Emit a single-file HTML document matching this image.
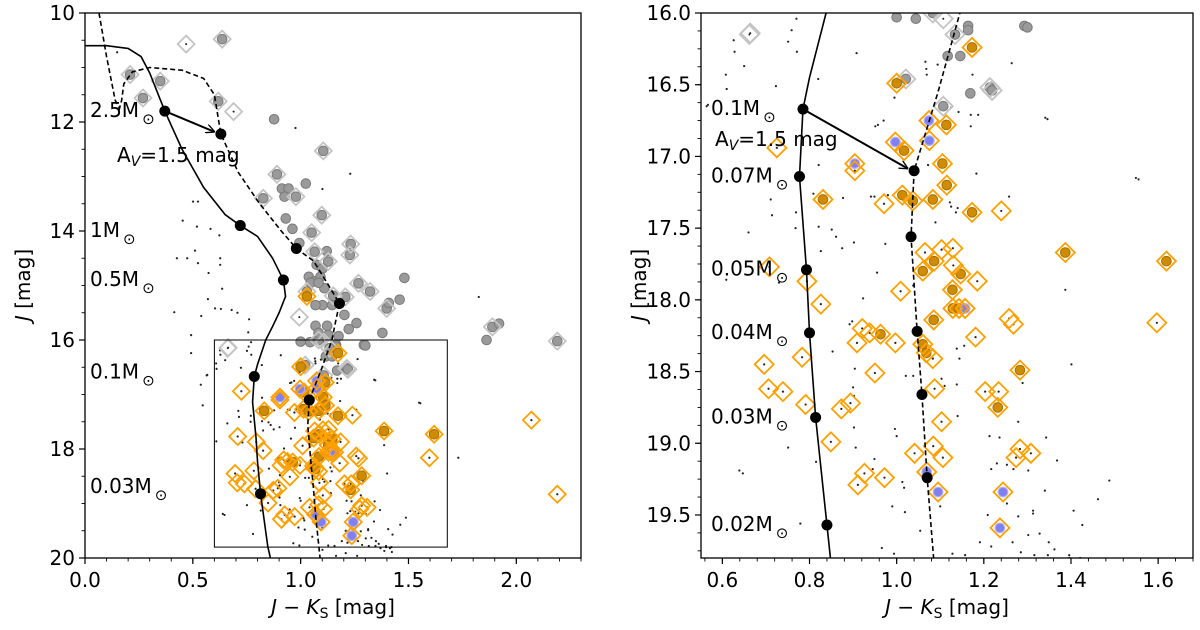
<!DOCTYPE html>
<html><head><meta charset="utf-8"><style>
html,body{margin:0;padding:0;background:#fff}
svg{display:block;font-family:"DejaVu Sans","Liberation Sans",sans-serif}
</style></head><body>
<svg id="chart" width="1200" height="630" viewBox="0 0 1200 630" xmlns="http://www.w3.org/2000/svg">
<defs>
<clipPath id="clipL"><rect x="85" y="13" width="496" height="545"/></clipPath>
<clipPath id="clipR"><rect x="701" y="13" width="492" height="545"/></clipPath>
<marker id="arrowHead" viewBox="0 0 10 10" refX="10" refY="5" markerWidth="9" markerHeight="9" orient="auto" markerUnits="userSpaceOnUse"><path d="M0,0 L10,5 L0,10" fill="none" stroke="#000" stroke-width="1.5"/></marker>
</defs>
<g id="layer"></g>
</svg>
<script>
// ---- data (color J-Ks, magnitude J) ----
const grayCircX=[0.636,0.209,0.349,0.269,0.618,1.105,0.89,0.827,0.978,1.098,1.051,1.232,1.228,1.128,1.065,1.029,1.151,1.207,1.268,1.322,1.399,1.889,2.19,1.214,1.083,0.877,1.024,0.913,0.944,0.925,0.931,0.962,0.994,1.074,1.101,1.038,1.065,1.092,1.047,1.110,1.083,1.101,1.069,1.146,1.203,1.259,1.481,1.409,1.459,1.379,1.223,1.123,1.069,1.128,1.083,1.176,1.044,1.293,1.164,1.862,1.92,1.121,1.0,1.164,1.30,1.134,1.117,1.146,1.021,1.169,1.219,1.107];
const grayCircJ=[10.48,11.13,11.25,11.56,11.62,12.53,12.96,13.40,13.37,13.71,14.03,14.24,14.44,14.56,14.38,15.11,15.19,15.21,14.96,15.11,15.42,15.76,16.02,16.52,16.0,11.95,13.13,13.22,13.22,13.37,13.77,13.96,14.22,14.62,14.69,14.84,14.92,14.84,14.95,15.05,14.95,15.36,15.36,15.36,15.54,15.69,14.86,15.32,15.26,15.87,15.80,15.74,15.74,15.91,15.87,15.93,16.04,16.09,16.09,16.0,15.70,14.37,16.03,16.12,16.10,16.15,16.30,16.30,16.46,16.56,16.54,16.65];
const grayDiaX=[0.636,0.209,0.349,0.269,0.618,1.105,0.89,0.827,0.978,1.098,1.051,1.232,1.228,1.128,1.065,1.029,1.151,1.207,1.268,1.322,1.399,1.889,2.19,1.214,1.083,0.469,0.689,0.994,0.662,0.664,1.107,1.134,1.021,1.219,1.107];
const grayDiaJ=[10.48,11.13,11.25,11.56,11.62,12.53,12.96,13.40,13.37,13.71,14.03,14.24,14.44,14.56,14.38,15.11,15.19,15.21,14.96,15.11,15.42,15.76,16.02,16.52,16.0,10.57,11.81,15.58,16.15,16.14,16.04,16.15,16.46,16.54,16.65];
const orangeCircX=[1.173,1.0,1.114,1.017,1.105,1.115,0.831,1.013,1.037,1.083,1.173,1.086,1.060,1.147,1.128,1.129,1.143,1.085,0.963,1.060,1.068,1.283,1.232,1.387,1.619,1.029];
const orangeCircJ=[16.24,16.49,16.78,16.96,17.05,17.20,17.30,17.27,17.31,17.30,17.39,17.73,17.80,17.82,17.93,18.06,18.06,18.14,18.24,18.31,18.37,18.49,18.75,17.67,17.73,15.20];
const blueCircX=[1.074,0.997,1.075,0.904,1.157,1.069,1.095,1.244,1.237];
const blueCircJ=[16.75,16.90,16.89,17.05,18.06,19.20,19.34,19.34,19.59];
const emptyDiaX=[0.725,0.904,0.971,1.240,1.065,1.103,1.129,1.130,0.708,0.794,1.185,0.826,1.009,1.258,1.268,1.597,0.921,0.938,0.909,0.997,1.181,0.783,0.696,0.950,1.083,0.706,0.739,1.087,1.203,1.234,0.791,0.873,0.894,1.103,0.849,1.041,1.084,1.106,1.283,1.274,1.308,0.926,0.972,0.911,2.07,2.19];
const emptyDiaJ=[16.94,17.10,17.33,17.38,17.67,17.65,17.64,17.76,17.77,17.87,17.87,18.03,17.94,18.13,18.17,18.16,18.20,18.23,18.30,18.30,18.26,18.40,18.45,18.51,18.41,18.62,18.64,18.62,18.64,18.64,18.73,18.76,18.72,18.85,18.99,19.07,19.02,19.10,19.04,19.10,19.07,19.21,19.24,19.29,17.47,18.83];
const dotX=[0.149,0.976,1.23,1.101,0.501,0.524,0.453,0.519,0.582,0.623,0.510,0.426,0.474,0.524,0.627,0.627,0.573,0.636,0.570,0.414,0.603,0.630,0.680,0.707,0.761,0.539,0.492,0.757,0.492,1.826,1.731,1.549,1.341,0.609,0.564,0.537,0.546,0.639,0.779,
0.770,0.759,0.626,0.751,0.628,0.771,0.908,0.650,0.820,0.723,0.608,0.610,0.567,0.970,0.957,0.995,1.066,1.068,1.069,1.094,1.264,1.174,1.125,1.142,1.170,1.187,1.346,1.170,0.951,1.072,1.183,1.555,0.821,0.711,0.809,0.769,0.714,0.660,0.768,0.821,0.851,0.861,0.902,0.875,0.826,0.941,0.949,0.877,0.980,0.974,1.089,1.122,1.125,1.140,1.136,1.258,0.955,0.730,1.387,0.923,1.038,0.898,0.892,0.853,0.904,0.900,0.902,1.021,1.038,1.103,1.110,1.138,1.138,1.155,1.144,1.401,1.289,0.996,1.000,0.906,0.902,0.751,0.815,0.949,0.945,0.647,1.013,1.017,0.990,1.019,1.054,0.966,0.994,1.100,1.140,1.213,1.217,1.230,1.236,1.279,1.343,1.302,1.340,1.368,1.313,1.313,1.253,1.279,1.406,1.426,1.462,1.488,1.209,1.191,1.217,1.266,1.302,1.328,1.349,1.362,1.285,1.396,1.421,1.396,1.253,1.268,1.128,1.157,1.347,
1.101,1.209,1.316,1.370,1.414,1.423,1.164,1.262,1.388];
const dotJ=[10.72,12.11,12.95,13.23,13.46,13.46,13.81,13.92,13.96,14.08,14.36,14.50,14.50,14.59,14.50,14.62,14.77,15.06,15.25,15.49,15.42,15.43,15.45,15.50,15.62,15.56,15.91,15.86,16.24,15.21,18.16,17.15,16.73,17.86,16.65,16.82,17.20,19.19,19.56,
16.04,16.12,16.19,16.20,16.27,16.27,16.28,16.37,16.46,16.51,16.43,16.53,16.64,16.75,16.78,16.59,16.34,16.39,16.43,16.36,16.35,16.43,16.66,16.69,16.71,16.71,16.74,16.79,16.79,17.06,17.12,17.16,17.06,17.30,17.26,17.39,17.41,17.53,17.50,17.49,17.51,17.56,17.60,17.64,17.66,17.28,17.28,17.29,17.27,17.61,17.46,17.32,17.35,17.36,17.39,17.28,17.81,17.88,17.93,17.99,17.90,18.15,18.17,18.36,18.48,18.61,18.67,18.53,18.53,18.55,18.60,18.59,18.34,18.32,18.41,18.45,18.58,18.90,18.95,19.03,18.89,19.03,19.13,19.11,19.18,19.21,19.27,19.31,19.44,19.48,19.61,19.73,19.77,19.44,18.81,18.95,19.18,19.14,18.96,18.85,18.96,19.19,19.33,19.12,19.47,19.49,19.42,19.51,19.47,19.57,19.39,19.26,19.50,19.69,19.72,19.69,19.64,19.63,19.69,19.74,19.76,19.78,19.80,19.80,19.15,19.18,19.77,19.78,19.78,
19.85,19.91,19.78,19.82,19.82,19.89,19.96,19.96,19.87];
const solidX=[-0.02,0.1,0.2,0.26,0.3,0.37,0.45,0.55,0.65,0.72,0.8,0.87,0.92,0.93,0.9,0.87,0.838,0.80,0.785,0.777,0.793,0.80,0.814,0.84,0.848,0.86];
const solidJ=[10.6,10.6,10.65,10.8,11.1,11.8,12.5,13.2,13.7,13.9,14.1,14.5,14.9,15.2,15.5,15.75,16.0,16.45,16.67,17.14,17.79,18.23,18.82,19.57,19.8,20.0];
const dashX=[0.065,0.10,0.14,0.16,0.17,0.18,0.22,0.3,0.45,0.55,0.6,0.63,0.71,0.81,0.91,0.98,1.06,1.13,1.18,1.16,1.145,1.095,1.04,1.033,1.047,1.058,1.07,1.09];
const dashJ=[10.0,10.8,11.6,11.75,11.6,11.3,11.08,11.0,11.05,11.2,11.5,12.22,12.92,13.5,14.0,14.32,14.55,15.0,15.33,15.7,16.0,16.55,17.1,17.56,18.22,18.66,19.24,20.0];
const leftMassX=[0.37,0.72,0.92,0.785,0.814,0.63,0.98,1.18,1.04];
const leftMassJ=[11.8,13.9,14.9,16.67,18.82,12.22,14.32,15.33,17.1];
const rightMassX=[0.785,0.777,0.793,0.80,0.814,0.84,1.04,1.033,1.047,1.058,1.07];
const rightMassJ=[16.67,17.14,17.79,18.23,18.82,19.57,17.1,17.56,18.22,18.66,19.24];
const leftTicksX=["0.0","0.5","1.0","1.5","2.0"];
const leftTicksY=["10","12","14","16","18","20"];
const rightTicksX=["0.6","0.8","1.0","1.2","1.4","1.6"];
const rightTicksY=["16.0","16.5","17.0","17.5","18.0","18.5","19.0","19.5"];
const leftLabels=[["2.5M",11.8],["1M",14.0],["0.5M",14.9],["0.1M",16.6],["0.03M",18.7]];
const rightLabels=[["0.1M",16.67],["0.07M",17.14],["0.05M",17.79],["0.04M",18.23],["0.03M",18.82],["0.02M",19.57]];

const NS="http://www.w3.org/2000/svg";
const layer=document.getElementById('layer');
function mk(tag,attrs,parent){const e=document.createElementNS(NS,tag);for(const k in attrs)e.setAttribute(k,attrs[k]);(parent||layer).appendChild(e);return e;}

const panels=[
 {id:'left',x0:85,x1:581,y0:13,y1:558,xmin:0,xmax:2.3,ymin:10,ymax:20,clip:'clipL'},
 {id:'right',x0:701,x1:1193,y0:13,y1:558,xmin:0.551,xmax:1.68,ymin:16,ymax:19.8,clip:'clipR'}
];
function sx(p,v){return p.x0+(v-p.xmin)/(p.xmax-p.xmin)*(p.x1-p.x0);}
function sy(p,v){return p.y0+(v-p.ymin)/(p.ymax-p.ymin)*(p.y1-p.y0);}
function dia(g,cx,cy,r,stroke){return mk('path',{d:`M${cx},${cy-r}L${cx+r},${cy}L${cx},${cy+r}L${cx-r},${cy}Z`,fill:'none',stroke:stroke,'stroke-width':1.8},g);}

panels.forEach(p=>{
 const g=mk('g',{'clip-path':`url(#${p.clip})`});
 
 
 const dr=p.id==='left'?8.5:9.5;
 dotX.forEach((x,i)=>{const c=mk('circle',{cx:sx(p,x),cy:sy(p,dotJ[i]),r:1.1,fill:'#222'},g);
  
  });
 emptyDiaX.forEach((x,i)=>{mk('circle',{cx:sx(p,x),cy:sy(p,emptyDiaJ[i]),r:1.1,fill:'#222'},g);});
 grayDiaX.forEach((x,i)=>{mk('circle',{cx:sx(p,x),cy:sy(p,grayDiaJ[i]),r:1.0,fill:'#222'},g);});
 grayCircX.forEach((x,i)=>{const c=mk('circle',{cx:sx(p,x),cy:sy(p,grayCircJ[i]),r:4.8,fill:'#9a9a9a',stroke:'#7a7a7a','stroke-width':1},g);
  
  });
 grayDiaX.forEach((x,i)=>{const d=dia(g,sx(p,x),sy(p,grayDiaJ[i]),dr,'#c4c4c4');
  
  });
 orangeCircX.forEach((x,i)=>{const c=mk('circle',{cx:sx(p,x),cy:sy(p,orangeCircJ[i]),r:4.8,fill:'#d08c00',stroke:'#a87000','stroke-width':1},g);
  
  });
 blueCircX.forEach((x,i)=>{const c=mk('circle',{cx:sx(p,x),cy:sy(p,blueCircJ[i]),r:4.8,fill:'#8080f0',stroke:'#b0b0ff','stroke-width':1.2},g);
  
  });
 [[orangeCircX,orangeCircJ],[blueCircX,blueCircJ],[emptyDiaX,emptyDiaJ]].forEach(([xs,js])=>{
  xs.forEach((x,i)=>{const d=dia(g,sx(p,x),sy(p,js[i]),dr,'#ffa000');
   
   });
 });
 const ps=solidX.map((x,i)=>sx(p,x)+','+sy(p,solidJ[i])).join(' ');
 const sl=mk('polyline',{points:ps,fill:'none',stroke:'#000','stroke-width':1.6},g);
 
 
 const pd=dashX.map((x,i)=>sx(p,x)+','+sy(p,dashJ[i])).join(' ');
 const dl=mk('polyline',{points:pd,fill:'none',stroke:'#000','stroke-width':1.6,'stroke-dasharray':'5,3'},g);
 
 
 const mX=p.id==='left'?leftMassX:rightMassX, mJ=p.id==='left'?leftMassJ:rightMassJ;
 mX.forEach((x,i)=>{const c=mk('circle',{cx:sx(p,x),cy:sy(p,mJ[i]),r:5.5,fill:'#000'},g);
  
  });
 const ai=p.id==='left'?[0,5]:[0,6];
 const a=mk('line',{x1:sx(p,mX[ai[0]]),y1:sy(p,mJ[ai[0]]),x2:sx(p,mX[ai[1]])-6,y2:sy(p,mJ[ai[1]])-2,stroke:'#000','stroke-width':2,'marker-end':'url(#arrowHead)'},g);
 
 
 if(p.id==='left'){
  const b=mk('rect',{x:sx(p,0.6),y:sy(p,16),width:sx(p,1.68)-sx(p,0.6),height:sy(p,19.8)-sy(p,16),fill:'none',stroke:'#000','stroke-width':1},g);
  
  
 }
 const f=mk('rect',{x:p.x0,y:p.y0,width:p.x1-p.x0,height:p.y1-p.y0,fill:'none',stroke:'#000','stroke-width':1.3});
 
 
 const tx=p.id==='left'?leftTicksX:rightTicksX, ty=p.id==='left'?leftTicksY:rightTicksY;
 tx.forEach(t=>{const v=parseFloat(t),X=sx(p,v);
  mk('line',{x1:X,y1:p.y1,x2:X,y2:p.y1+6,stroke:'#000','stroke-width':1.2});
  const e=mk('text',{x:X,y:p.y1+29,'font-size':20,'text-anchor':'middle',fill:'#000'});e.textContent=t;
  
  });
 ty.forEach(t=>{const v=parseFloat(t),Y=sy(p,v);
  mk('line',{x1:p.x0-6,y1:Y,x2:p.x0,y2:Y,stroke:'#000','stroke-width':1.2});
  const e=mk('text',{x:p.x0-10,y:Y+7,'font-size':20,'text-anchor':'end',fill:'#000'});e.textContent=t;
  
  });
 const mx=p.id==='left'?0.1:0.04, my=p.id==='left'?0.5:0.125;
 for(let v=Math.ceil(p.xmin/mx)*mx;v<=p.xmax+1e-9;v+=mx){const X=sx(p,v);mk('line',{x1:X,y1:p.y1,x2:X,y2:p.y1+3.5,stroke:'#000','stroke-width':0.9});}
 for(let v=p.ymin;v<=p.ymax+1e-9;v+=my){const Y=sy(p,v);mk('line',{x1:p.x0-3.5,y1:Y,x2:p.x0,y2:Y,stroke:'#000','stroke-width':0.9});}
 const cx=(p.x0+p.x1)/2;
 const xt=mk('text',{x:cx,y:614,'font-size':20,'text-anchor':'middle',fill:'#000'});
 xt.innerHTML='<tspan font-style="italic">J</tspan> − <tspan font-style="italic">K</tspan><tspan font-size="14" dy="4">S</tspan><tspan dy="-4"> [mag]</tspan>';
 
 
 const yx=p.id==='left'?30:646;
 const yt=mk('text',{x:yx,y:285,'font-size':20,'text-anchor':'middle',fill:'#000',transform:`rotate(-90 ${yx} 285)`});
 yt.innerHTML='<tspan font-style="italic">J</tspan> [mag]';
 
 
 const labs=p.id==='left'?leftLabels:rightLabels;
 const lx=p.id==='left'?90:711;
 labs.forEach(([s,j])=>{const Y=sy(p,j)+6;
  const e=mk('text',{x:lx,y:Y,'font-size':20,fill:'#000'});
  e.innerHTML=s+'<tspan font-size="15" dx="3" dy="7">⊙</tspan>';
  
  });
 const av=mk('text',{x:p.id==='left'?117:715,y:p.id==='left'?162:146,'font-size':20,fill:'#000'});
 av.innerHTML='A<tspan font-size="14" dy="4" font-style="italic">V</tspan><tspan dy="-4">=1.5 mag</tspan>';
 
 
});
</script>
</body></html>
